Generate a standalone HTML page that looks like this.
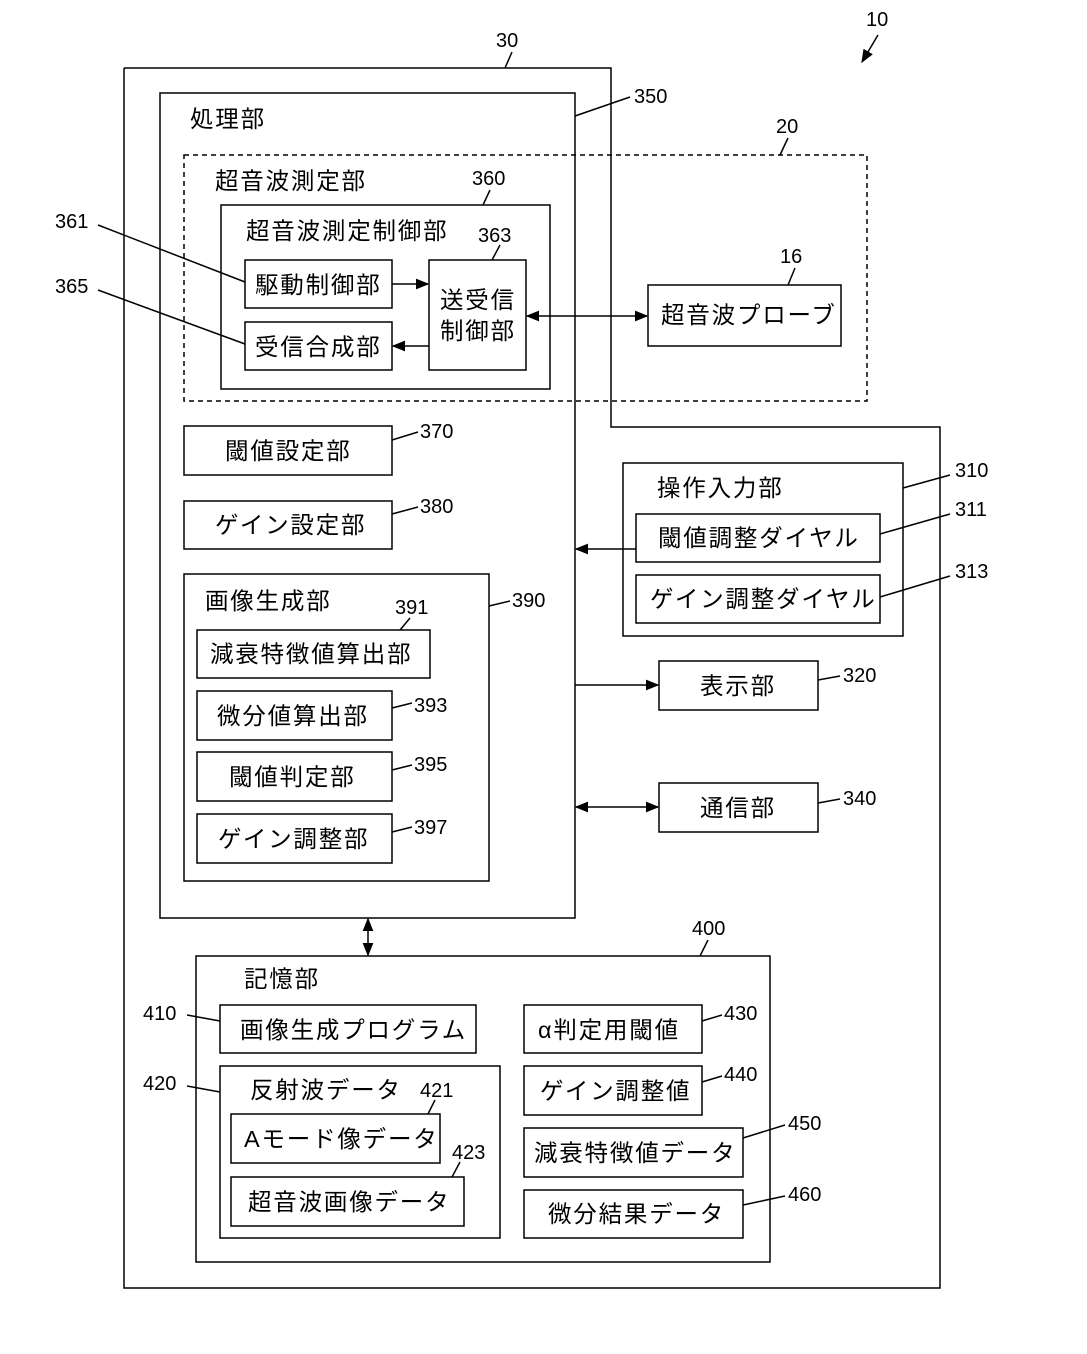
<!DOCTYPE html>
<html><head><meta charset="utf-8"><style>
html,body{margin:0;padding:0;background:#fff}
svg{display:block}
text{font-family:"Liberation Sans","Noto Sans CJK JP",sans-serif;fill:#000}
.t{font-size:23.5px;letter-spacing:1.8px}
.n{font-size:20px}
rect,polyline,line,path{fill:none;stroke:#000;stroke-width:1.5}
</style></head><body>
<svg width="1087" height="1354" viewBox="0 0 1087 1354" xmlns="http://www.w3.org/2000/svg">
<defs>
<marker id="a" viewBox="0 0 10 10" refX="9" refY="5" markerWidth="9" markerHeight="9" orient="auto-start-reverse"><path d="M0,1 L10,5 L0,9 z" style="fill:#000;stroke:none"/></marker>
</defs>
<polyline points="124,68 611,68 611,427 940,427 940,1288 124,1288 124,68"/>
<rect x="160" y="93" width="415" height="825"/>
<rect x="184" y="155" width="683" height="246" style="stroke-dasharray:5,4"/>
<rect x="221" y="205" width="329" height="184"/>
<rect x="245" y="260" width="147" height="48"/>
<rect x="245" y="322" width="147" height="48"/>
<rect x="429" y="260" width="97" height="110"/>
<rect x="648" y="285" width="193" height="61"/>
<rect x="184" y="426" width="208" height="49"/>
<rect x="184" y="501" width="208" height="48"/>
<rect x="184" y="574" width="305" height="307"/>
<rect x="197" y="630" width="233" height="48"/>
<rect x="197" y="691" width="195" height="49"/>
<rect x="197" y="752" width="195" height="49"/>
<rect x="197" y="814" width="195" height="49"/>
<rect x="623" y="463" width="280" height="173"/>
<rect x="636" y="514" width="244" height="48"/>
<rect x="636" y="575" width="244" height="48"/>
<rect x="659" y="661" width="159" height="49"/>
<rect x="659" y="783" width="159" height="49"/>
<rect x="196" y="956" width="574" height="306"/>
<rect x="220" y="1005" width="256" height="48"/>
<rect x="220" y="1066" width="280" height="172"/>
<rect x="231" y="1114" width="209" height="49"/>
<rect x="231" y="1177" width="233" height="49"/>
<rect x="524" y="1005" width="178" height="48"/>
<rect x="524" y="1066" width="178" height="49"/>
<rect x="524" y="1128" width="219" height="49"/>
<rect x="524" y="1190" width="219" height="48"/>
<line x1="392" y1="284" x2="428" y2="284" marker-end="url(#a)"/>
<line x1="429" y1="346" x2="393" y2="346" marker-end="url(#a)"/>
<line x1="527" y1="316" x2="647" y2="316" marker-start="url(#a)" marker-end="url(#a)"/>
<line x1="636" y1="549" x2="576" y2="549" marker-end="url(#a)"/>
<line x1="575" y1="685" x2="658" y2="685" marker-end="url(#a)"/>
<line x1="576" y1="807" x2="658" y2="807" marker-start="url(#a)" marker-end="url(#a)"/>
<line x1="368" y1="919" x2="368" y2="955" marker-start="url(#a)" marker-end="url(#a)"/>
<line x1="878" y1="35" x2="862" y2="62" marker-end="url(#a)"/>
<line x1="505" y1="68" x2="512" y2="52"/>
<line x1="575" y1="116" x2="630" y2="97"/>
<line x1="780" y1="155" x2="788" y2="138"/>
<line x1="483" y1="205" x2="490" y2="190"/>
<line x1="492" y1="260" x2="500" y2="245"/>
<line x1="788" y1="285" x2="795" y2="268"/>
<line x1="98" y1="225" x2="245" y2="282"/>
<line x1="98" y1="290" x2="245" y2="344"/>
<line x1="392" y1="440" x2="418" y2="432"/>
<line x1="392" y1="514" x2="418" y2="507"/>
<line x1="489" y1="606" x2="510" y2="601"/>
<line x1="400" y1="630" x2="410" y2="618"/>
<line x1="392" y1="708" x2="412" y2="703"/>
<line x1="392" y1="770" x2="412" y2="765"/>
<line x1="392" y1="832" x2="412" y2="827"/>
<line x1="903" y1="488" x2="950" y2="475"/>
<line x1="880" y1="534" x2="950" y2="514"/>
<line x1="880" y1="597" x2="950" y2="576"/>
<line x1="818" y1="680" x2="840" y2="676"/>
<line x1="818" y1="803" x2="840" y2="799"/>
<line x1="700" y1="956" x2="708" y2="940"/>
<line x1="187" y1="1015" x2="220" y2="1021"/>
<line x1="187" y1="1086" x2="220" y2="1092"/>
<line x1="428" y1="1114" x2="435" y2="1100"/>
<line x1="452" y1="1177" x2="460" y2="1162"/>
<line x1="702" y1="1021" x2="722" y2="1015"/>
<line x1="702" y1="1082" x2="722" y2="1076"/>
<line x1="743" y1="1138" x2="785" y2="1125"/>
<line x1="743" y1="1205" x2="785" y2="1196"/>
<g class="t">
<text x="190" y="127">処理部</text>
<text x="215" y="189">超音波測定部</text>
<text x="246" y="239">超音波測定制御部</text>
<text x="255" y="293">駆動制御部</text>
<text x="255" y="355">受信合成部</text>
<text x="440" y="308">送受信</text>
<text x="440" y="339">制御部</text>
<text x="661" y="323">超音波プローブ</text>
<text x="225" y="459">閾値設定部</text>
<text x="215" y="533">ゲイン設定部</text>
<text x="205" y="609">画像生成部</text>
<text x="210" y="662">減衰特徴値算出部</text>
<text x="217" y="724">微分値算出部</text>
<text x="229" y="785">閾値判定部</text>
<text x="218" y="847">ゲイン調整部</text>
<text x="657" y="496">操作入力部</text>
<text x="658" y="546">閾値調整ダイヤル</text>
<text x="650" y="607">ゲイン調整ダイヤル</text>
<text x="700" y="694">表示部</text>
<text x="700" y="816">通信部</text>
<text x="244" y="987">記憶部</text>
<text x="240" y="1038">画像生成プログラム</text>
<text x="250" y="1098">反射波データ</text>
<text x="244" y="1147">Aモード像データ</text>
<text x="248" y="1210">超音波画像データ</text>
<text x="538" y="1038">α判定用閾値</text>
<text x="540" y="1099">ゲイン調整値</text>
<text x="534" y="1161">減衰特徴値データ</text>
<text x="548" y="1222">微分結果データ</text>
</g>
<g class="n">
<text x="866" y="26">10</text>
<text x="496" y="47">30</text>
<text x="634" y="103">350</text>
<text x="776" y="133">20</text>
<text x="472" y="185">360</text>
<text x="478" y="242">363</text>
<text x="780" y="263">16</text>
<text x="55" y="228">361</text>
<text x="55" y="293">365</text>
<text x="420" y="438">370</text>
<text x="420" y="513">380</text>
<text x="512" y="607">390</text>
<text x="395" y="614">391</text>
<text x="414" y="712">393</text>
<text x="414" y="771">395</text>
<text x="414" y="834">397</text>
<text x="955" y="477">310</text>
<text x="955" y="516">311</text>
<text x="955" y="578">313</text>
<text x="843" y="682">320</text>
<text x="843" y="805">340</text>
<text x="692" y="935">400</text>
<text x="143" y="1020">410</text>
<text x="143" y="1090">420</text>
<text x="420" y="1097">421</text>
<text x="452" y="1159">423</text>
<text x="724" y="1020">430</text>
<text x="724" y="1081">440</text>
<text x="788" y="1130">450</text>
<text x="788" y="1201">460</text>
</g>
</svg>
</body></html>
